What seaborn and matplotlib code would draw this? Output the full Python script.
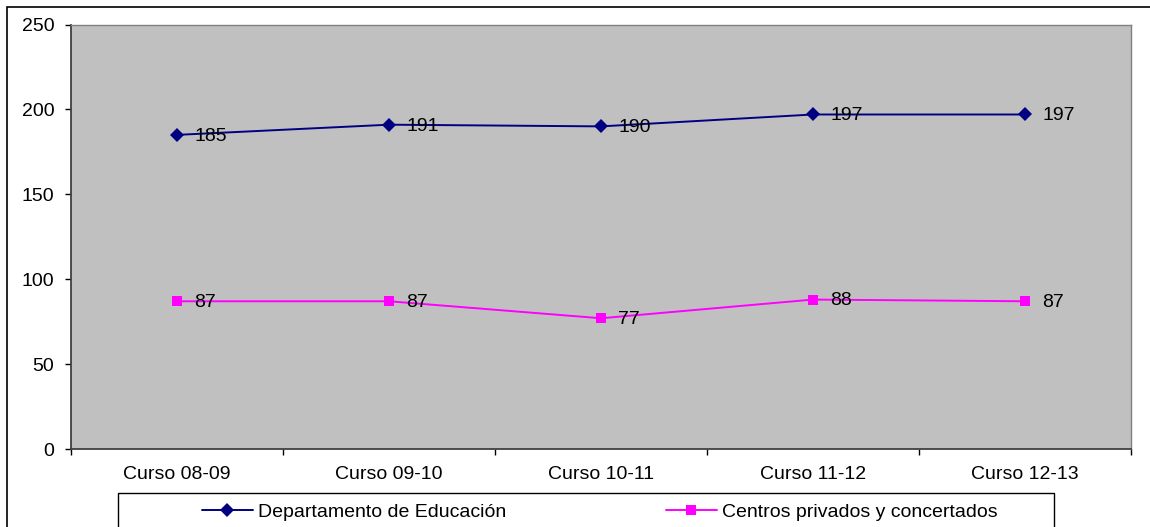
import matplotlib.pyplot as plt
from matplotlib.patches import Rectangle
from matplotlib.lines import Line2D
import seaborn as sns
import pandas as pd

# data
cursos = ['Curso 08-09', 'Curso 09-10', 'Curso 10-11', 'Curso 11-12', 'Curso 12-13']
educacion = [185, 191, 190, 197, 197]
privados = [87, 87, 77, 88, 87]
serie_edu = 'Departamento de Educación'
serie_priv = 'Centros privados y concertados'

df = pd.DataFrame({'Curso': cursos * 2,
                   'Valor': educacion + privados,
                   'Serie': [serie_edu] * 5 + [serie_priv] * 5})

sns.set_theme(style='white')
plt.rcParams['font.family'] = ['Liberation Sans', 'DejaVu Sans']
plt.rcParams['font.size'] = 14
plt.rcParams['text.color'] = 'black'
plt.rcParams['xtick.color'] = 'black'
plt.rcParams['ytick.color'] = 'black'

W, H = 1150, 527
fig = plt.figure(figsize=(W / 100, H / 100), dpi=100)
ax = fig.add_axes([71 / W, 1 - 449 / H, (1131 - 71) / W, (449 - 24.5) / H])
ax.set_facecolor('#C0C0C0')

colors = {serie_edu: '#000080', serie_priv: '#FF00FF'}
markers = {serie_edu: 'D', serie_priv: 's'}
sns.lineplot(data=df, x='Curso', y='Valor', hue='Serie', style='Serie',
             palette=colors, markers=markers, dashes=False, legend=False,
             linewidth=1.4, markersize=7.5, markeredgewidth=0, ax=ax)

# data labels to the right of each point
for serie, vals in [(serie_edu, educacion), (serie_priv, privados)]:
    for i, v in enumerate(vals):
        ax.annotate(str(v), (i, v), xytext=(12.5, -1), textcoords='offset points',
                    ha='left', va='center', fontsize=14, color='black')

ax.set_xlim(-0.5, len(cursos) - 0.5)
ax.set_ylim(0, 250)
ax.set_yticks([0, 50, 100, 150, 200, 250])
ax.set_xticks([i - 0.5 for i in range(len(cursos) + 1)])
ax.set_xticklabels([])
ax.set_xticks(range(len(cursos)), minor=True)
ax.set_xticklabels(cursos, minor=True)
ax.tick_params(axis='x', which='major', direction='out', length=4, width=1, color='black', bottom=True)
ax.tick_params(axis='x', which='minor', length=0, pad=12, labelsize=14, labelcolor='black')
ax.tick_params(axis='y', direction='out', length=4, width=1, color='black', left=True, pad=8,
               labelsize=14, labelcolor='black')
ax.set_xlabel('')
ax.set_ylabel('')

for s in ['left', 'bottom']:
    ax.spines[s].set_color('#404040')
    ax.spines[s].set_linewidth(1.3)
for s in ['top', 'right']:
    ax.spines[s].set_color('#808080')
    ax.spines[s].set_linewidth(1.0)

# outer chart border
fig.patches.append(Rectangle((7 / W, -0.1), 1.2, 1 - 7 / H + 0.1, transform=fig.transFigure,
                             fill=False, edgecolor='black', linewidth=1.2, clip_on=False))

# legend box
fig.patches.append(Rectangle((118 / W, -0.1), (1054 - 118) / W, 1 - 493 / H + 0.1,
                             transform=fig.transFigure, fill=False, edgecolor='black',
                             linewidth=1.0, clip_on=False))
handles = [Line2D([], [], color=colors[serie_edu], marker='D', markersize=7.5, markeredgewidth=0, linewidth=1.4),
           Line2D([], [], color=colors[serie_priv], marker='s', markersize=7.5, markeredgewidth=0, linewidth=1.4)]
fig.legend(handles, [serie_edu, serie_priv], loc='center', bbox_to_anchor=(600 / W, 1 - 512 / H),
           ncol=2, frameon=False, fontsize=14, handlelength=2.6, handletextpad=0.3,
           columnspacing=8.2, borderpad=0)

fig.savefig('out.png', dpi=100)
